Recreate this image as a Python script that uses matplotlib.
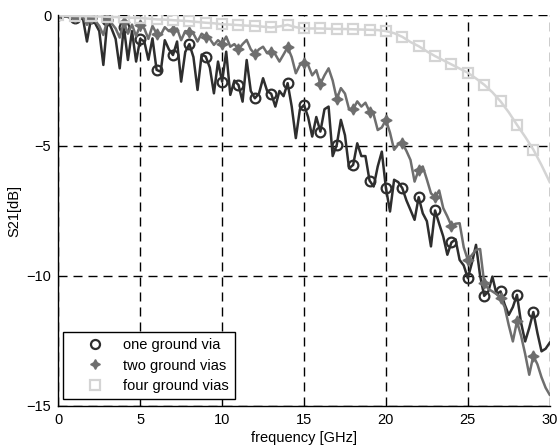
import numpy as np
import matplotlib
matplotlib.use("Agg")
import matplotlib.pyplot as plt
from matplotlib.lines import Line2D

plt.rcParams['font.family'] = ['Liberation Sans', 'DejaVu Sans']

# frequency grid for the noisy curves (GHz)
freq = np.linspace(0, 30, 121)

# S21 [dB], one ground via
s21_one = [
    0.0, -0.05, -0.03, -0.10, -0.11, -0.15, -0.10, -1.00,
    -0.11, -0.30, -0.60, -1.90, -0.17, -0.50, -0.90, -2.03,
    -0.43, -1.71, -0.60, -1.77, -0.90, -1.00, -1.70, -0.88,
    -2.09, -2.16, -0.95, -1.30, -1.52, -1.00, -2.54, -1.40,
    -1.10, -1.60, -2.86, -1.50, -1.58, -2.00, -2.99, -1.77,
    -2.54, -1.39, -3.05, -2.50, -2.67, -3.31, -1.71, -2.90,
    -3.18, -3.00, -2.41, -2.90, -3.01, -3.50, -2.90, -3.10,
    -2.60, -3.50, -4.71, -3.60, -3.44, -3.90, -4.65, -3.90,
    -4.46, -3.60, -3.50, -5.40, -4.97, -4.01, -4.60, -5.87,
    -5.74, -4.91, -5.40, -5.40, -6.34, -6.57, -5.80, -5.23,
    -6.63, -7.53, -6.31, -6.40, -6.63, -7.10, -7.47, -7.85,
    -6.98, -7.60, -7.90, -8.87, -7.49, -8.00, -8.49, -9.19,
    -8.72, -8.60, -9.39, -9.60, -10.09, -9.50, -8.81, -10.00,
    -10.77, -10.60, -10.03, -10.70, -10.60, -11.10, -11.50, -11.20,
    -10.73, -11.80, -12.52, -12.00, -11.39, -12.20, -12.90, -12.80,
    -12.57,
]

# S21 [dB], two ground vias
s21_two = [
    0.0, -0.02, -0.05, -0.03, -0.05, -0.10, -0.05, -0.36,
    -0.10, -0.20, -0.40, -0.75, -0.15, -0.30, -0.50, -0.85,
    -0.25, -0.70, -0.35, -0.80, -0.36, -0.50, -0.90, -0.40,
    -0.70, -0.75, -0.45, -0.60, -0.55, -0.50, -0.95, -0.60,
    -0.62, -0.70, -1.00, -0.70, -0.81, -0.90, -1.13, -0.95,
    -1.09, -0.81, -1.20, -1.10, -1.30, -1.10, -0.94, -1.30,
    -1.48, -1.30, -1.20, -1.45, -1.39, -1.50, -1.77, -1.50,
    -1.22, -1.60, -2.22, -1.90, -1.81, -1.90, -2.30, -2.10,
    -2.63, -2.30, -2.03, -2.50, -3.21, -2.79, -3.00, -3.60,
    -3.60, -3.30, -3.50, -3.35, -3.69, -3.80, -4.40, -4.30,
    -4.01, -4.50, -5.16, -4.95, -4.91, -5.20, -5.55, -6.38,
    -5.93, -5.80, -6.30, -6.83, -6.98, -6.72, -7.40, -7.72,
    -8.08, -8.00, -7.98, -8.90, -9.39, -9.20, -9.00, -8.97,
    -10.28, -10.50, -10.60, -10.70, -10.86, -11.20, -11.90, -12.52,
    -11.75, -12.30, -13.00, -13.80, -13.07, -13.40, -13.90, -14.30,
    -14.57,
]

# S21 [dB], four ground vias (smooth curve, 0.5 GHz grid)
freq_four = np.linspace(0, 30, 61)
s21_four = [
    0.0, -0.01, -0.02, -0.02, -0.03, -0.04, -0.05, -0.06, -0.07, -0.09,
    -0.10, -0.12, -0.15, -0.16, -0.18, -0.20, -0.22, -0.25, -0.28, -0.30,
    -0.34, -0.35, -0.37, -0.39, -0.40, -0.43, -0.46, -0.42, -0.36, -0.45,
    -0.50, -0.50, -0.50, -0.51, -0.52, -0.52, -0.53, -0.54, -0.55, -0.56,
    -0.60, -0.68, -0.82, -1.02, -1.18, -1.38, -1.56, -1.72, -1.88, -2.04,
    -2.20, -2.42, -2.66, -2.95, -3.30, -3.72, -4.20, -4.66, -5.15, -5.75,
    -6.40,
]

labels = ["one ground via", "two ground vias", "four ground vias"]
c_one, c_two, c_four = "#2e2e2e", "#6e6e6e", "#d4d4d4"

fig = plt.figure(figsize=(5.59, 4.46), dpi=100)
ax = fig.add_axes([0.1043, 0.0897, 0.8791, 0.8756])

ax.plot(freq, s21_one, color=c_one, lw=1.8, marker="o", markevery=slice(0, 120, 4),
        ms=7, mfc="none", mec=c_one, mew=1.6)
ax.plot(freq, s21_two, color=c_two, lw=1.8, marker=(4, 1, 0), markevery=slice(0, 120, 4),
        ms=8, mfc=c_two, mec=c_two, mew=1.0)
ax.plot(freq_four, s21_four, color=c_four, lw=1.8, marker="s", markevery=slice(0, 60, 2),
        ms=7.5, mfc="none", mec=c_four, mew=1.6)

ax.set_xlim(0, 30)
ax.set_ylim(-15, 0)
ax.set_xticks([0, 5, 10, 15, 20, 25, 30])
ax.set_yticks([-15, -10, -5, 0])
ax.grid(True, color="black", linestyle=(0, (6.5, 4.3)), linewidth=1.0)
ax.spines["top"].set_visible(False)
ax.spines["right"].set_visible(False)
for side in ("left", "bottom"):
    ax.spines[side].set_linewidth(1.0)
ax.tick_params(direction="in", length=0, labelsize=10.5, pad=5)
ax.set_xlabel("frequency [GHz]", fontsize=10.5, labelpad=3)
ax.set_ylabel("S21[dB]", fontsize=10.5, labelpad=4)

handles = [
    Line2D([], [], ls="none", marker="o", ms=6.5, mfc="none", mec=c_one, mew=1.6),
    Line2D([], [], ls="none", marker=(4, 1, 0), ms=7, mfc=c_two, mec=c_two),
    Line2D([], [], ls="none", marker="s", ms=7, mfc="none", mec=c_four, mew=1.6),
]
leg = ax.legend(handles, labels, loc="lower left", bbox_to_anchor=(0.0102, 0.018),
                borderaxespad=0, fontsize=10.5, frameon=True, fancybox=False,
                edgecolor="black", framealpha=1, handlelength=3.6,
                handletextpad=0.1, labelspacing=0.45, borderpad=0.4)
leg.get_frame().set_linewidth(1.0)

fig.savefig("out.png", dpi=100)
